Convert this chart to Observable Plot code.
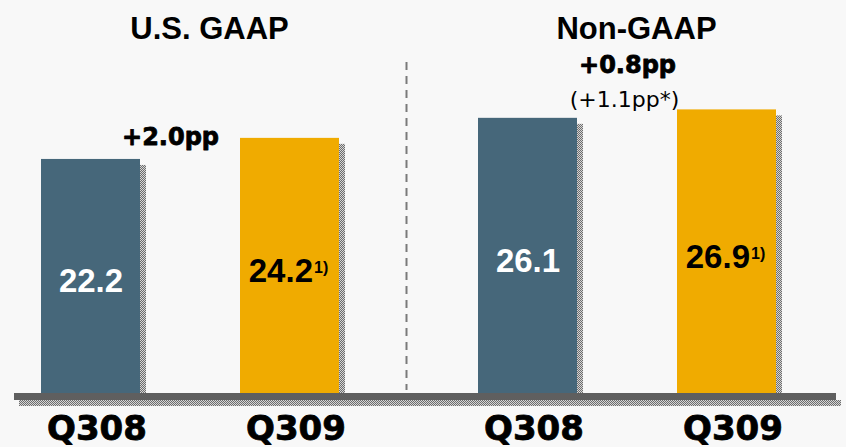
<!DOCTYPE html>
<html>
<head>
<meta charset="utf-8">
<script src="https://cdn.jsdelivr.net/npm/d3@7"></script>
<script src="https://cdn.jsdelivr.net/npm/@observablehq/plot@0.6"></script>
<style>
  html, body { margin: 0; padding: 0; background: #f8f8f8; }
  #chart { width: 846px; height: 447px; }
</style>
</head>
<body>
<div id="chart"></div>
<script>
// Operating margin (%) by accounting basis and quarter
const groups = ["U.S. GAAP", "U.S. GAAP", "Non-GAAP", "Non-GAAP"];
const quarters = ["Q308", "Q309", "Q308", "Q309"];
const margins = [22.2, 24.2, 26.1, 26.9];
const footnotes = ["", "1)", "", "1)"];

const groupOrder = ["U.S. GAAP", "Non-GAAP"];
const quarterOrder = ["Q308", "Q309"];
const barColors = ["#46677a", "#f0ab00"];

// Year-over-year changes shown above each group
const changeGAAP = "+2.0pp";
const changeNonGAAP = "+0.8pp";
const changeNonGAAPAdj = "(+1.1pp*)";

const table = margins.map((value, i) => ({
  group: groups[i],
  quarter: quarters[i],
  value,
  note: footnotes[i]
}));
const prior = table.filter(d => d.quarter === "Q308");
const current = table.filter(d => d.quarter === "Q309");

const arial = "Liberation Sans, Arial, sans-serif";
const heavy = "DejaVu Sans, Verdana, sans-serif";
// extra weight for the black display labels
const thick = { stroke: "black", strokeWidth: 0.8 };

const svg = Plot.plot({
  width: 846,
  height: 447,
  marginLeft: 20,
  marginRight: 49,
  marginTop: 24,
  marginBottom: 54,
  style: { background: "#f8f8f8", overflow: "visible" },
  fx: { domain: groupOrder, paddingInner: 0.226, paddingOuter: 0, axis: null },
  x: { domain: quarterOrder, paddingInner: 0.505, paddingOuter: 0.1, axis: null },
  y: { domain: [0, 35], axis: null },
  color: { domain: quarterOrder, range: barColors },
  marks: [
    // drop shadow behind each bar
    Plot.barY(table, { fx: "group", x: "quarter", y: "value", dx: 6, dy: 6, fill: "url(#shade)" }),
    Plot.barY(table, { fx: "group", x: "quarter", y: "value", fill: "quarter" }),

    // values inside the bars
    Plot.text(prior, {
      fx: "group", x: "quarter", y: d => d.value / 2,
      text: d => d.value.toFixed(1),
      lineAnchor: "bottom", dy: 16,
      fill: "white", fontFamily: arial, fontWeight: "bold", fontSize: 33
    }),
    Plot.text(current, {
      fx: "group", x: "quarter", y: d => d.value / 2,
      text: d => d.value.toFixed(1),
      textAnchor: "end", lineAnchor: "bottom", dx: 23, dy: 16,
      fill: "black", fontFamily: arial, fontWeight: "bold", fontSize: 33
    }),
    Plot.text(current, {
      fx: "group", x: "quarter", y: d => d.value / 2,
      text: "note",
      textAnchor: "start", lineAnchor: "bottom", dx: 24, dy: 7,
      fill: "black", fontFamily: arial, fontWeight: "bold", fontSize: 16
    }),

    // quarter labels under the baseline
    Plot.text(table, {
      fx: "group", x: "quarter", text: "quarter",
      frameAnchor: "bottom", lineAnchor: "top", dy: 22, dx: 6,
      fill: "black", ...thick, fontFamily: heavy, fontWeight: "bold", fontSize: 34
    }),

    // group titles
    Plot.text([groupOrder[0]], {
      fx: d => d, text: d => d, frameAnchor: "top", lineAnchor: "bottom", dx: 19, dy: 14,
      fill: "black", fontFamily: arial, fontWeight: "bold", fontSize: 31
    }),
    Plot.text([groupOrder[1]], {
      fx: d => d, text: d => d, frameAnchor: "top", lineAnchor: "bottom", dx: 9, dy: 14,
      fill: "black", fontFamily: arial, fontWeight: "bold", fontSize: 31
    }),

    // change annotations
    Plot.text([changeGAAP], {
      fx: () => groupOrder[0], text: d => d, frameAnchor: "top", lineAnchor: "bottom", dx: -20, dy: 120,
      fill: "black", ...thick, fontFamily: heavy, fontWeight: "bold", fontSize: 24
    }),
    Plot.text([changeNonGAAP], {
      fx: () => groupOrder[1], text: d => d, frameAnchor: "top", lineAnchor: "bottom", dx: 0, dy: 48,
      fill: "black", ...thick, fontFamily: heavy, fontWeight: "bold", fontSize: 24
    }),
    Plot.text([changeNonGAAPAdj], {
      fx: () => groupOrder[1], text: d => d, frameAnchor: "top", lineAnchor: "bottom", dx: -3, dy: 82,
      fill: "black", fontFamily: heavy, fontSize: 22
    })
  ]
});

// dotted shadow pattern
const root = d3.select(svg);
const pattern = root.insert("defs", ":first-child")
  .append("pattern")
  .attr("id", "shade")
  .attr("patternUnits", "userSpaceOnUse")
  .attr("width", 2).attr("height", 2);
pattern.append("rect").attr("width", 2).attr("height", 2).attr("fill", "#d6d6d6");
pattern.append("rect").attr("x", 0).attr("y", 0).attr("width", 1).attr("height", 1).attr("fill", "#6e6e6e");
pattern.append("rect").attr("x", 1).attr("y", 1).attr("width", 1).attr("height", 1).attr("fill", "#6e6e6e");

// baseline band, its shadow, and the dashed divider between groups
const yScale = svg.scale("y");
const fxScale = svg.scale("fx");
const y0 = yScale.apply(0);
const left = fxScale.apply(groupOrder[0]);
const firstEnd = left + fxScale.bandwidth;
const secondStart = fxScale.apply(groupOrder[1]);
const right = secondStart + fxScale.bandwidth;
const deco = root.append("g");

deco.append("line")
  .attr("x1", (firstEnd + secondStart) / 2 - 2).attr("x2", (firstEnd + secondStart) / 2 - 2)
  .attr("y1", 62).attr("y2", y0 - 3)
  .attr("stroke", "#7a7a7a").attr("stroke-width", 2).attr("stroke-dasharray", "8,6");
deco.append("rect")
  .attr("x", left - 2).attr("y", y0 + 7)
  .attr("width", right + 45 - (left - 2)).attr("height", 6)
  .attr("fill", "url(#shade)");
deco.append("rect")
  .attr("x", left - 7).attr("y", y0)
  .attr("width", right + 40 - (left - 7)).attr("height", 7)
  .attr("fill", "#5f5f5f");

document.getElementById("chart").appendChild(svg);
</script>
</body>
</html>
